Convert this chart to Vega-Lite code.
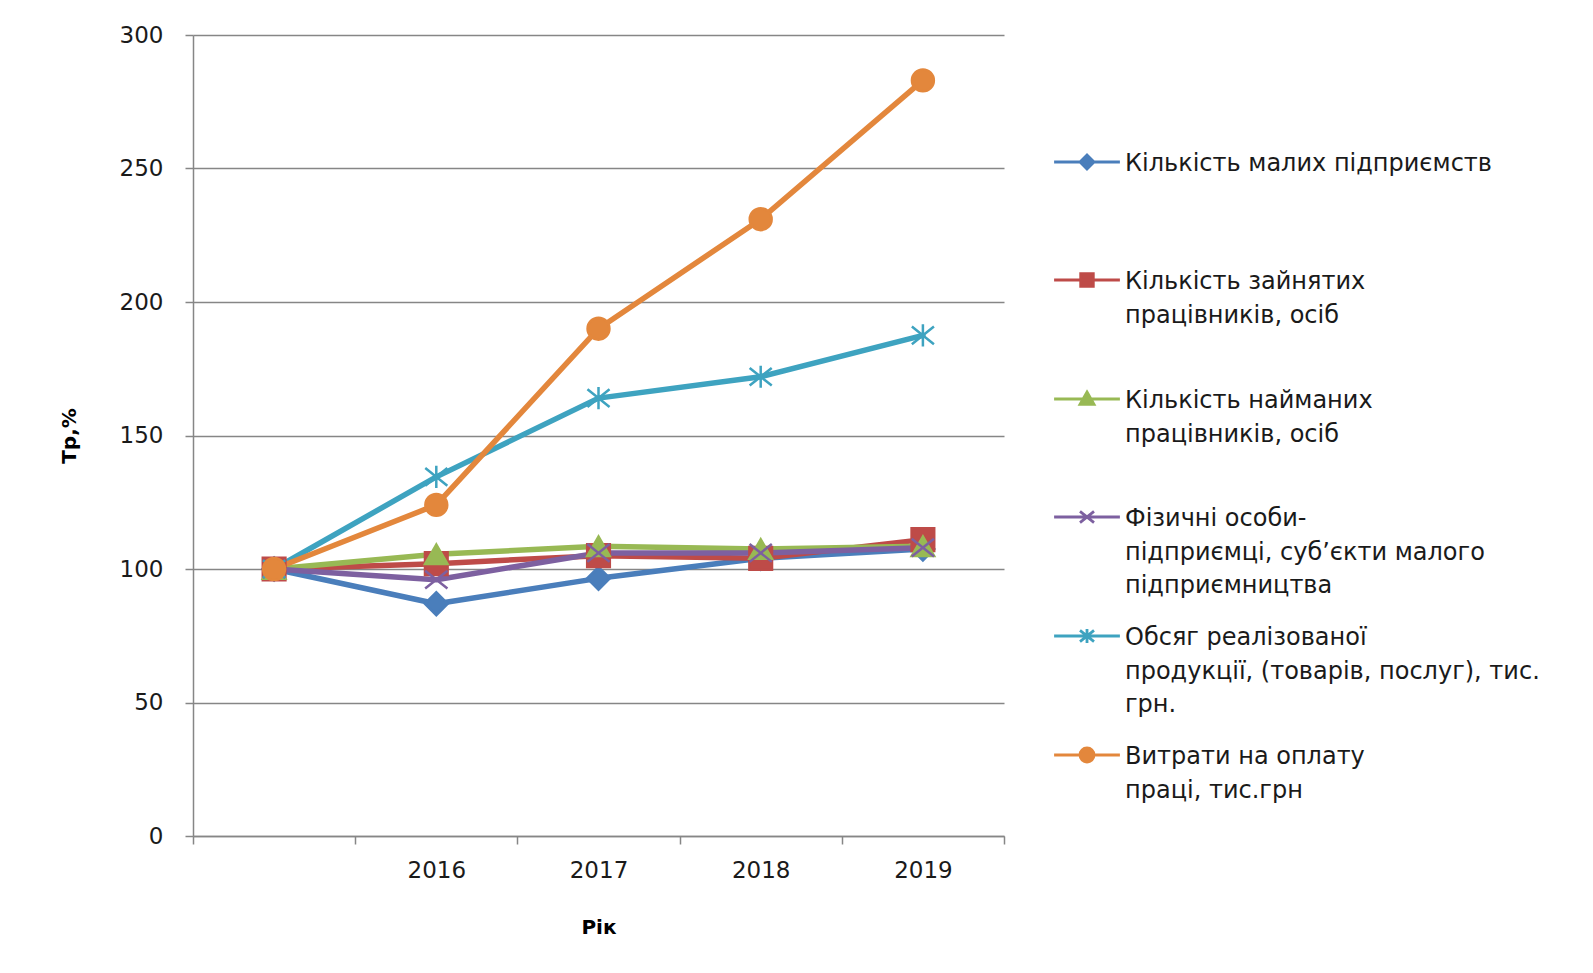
{
  "$schema": "https://vega.github.io/schema/vega-lite/v6.json",
  "width": 811,
  "height": 801,
  "autosize": {"type": "none"},
  "padding": {"left": 193, "top": 35, "right": 589, "bottom": 137},
  "background": "white",
  "data": {
    "values": [
      {"year": "2015", "series": "Кількість малих підприємств", "value": 100},
      {"year": "2016", "series": "Кількість малих підприємств", "value": 87},
      {"year": "2017", "series": "Кількість малих підприємств", "value": 96.5},
      {"year": "2018", "series": "Кількість малих підприємств", "value": 104},
      {"year": "2019", "series": "Кількість малих підприємств", "value": 107.5},
      {"year": "2015", "series": "Кількість зайнятих працівників, осіб", "value": 100},
      {"year": "2016", "series": "Кількість зайнятих працівників, осіб", "value": 102},
      {"year": "2017", "series": "Кількість зайнятих працівників, осіб", "value": 105},
      {"year": "2018", "series": "Кількість зайнятих працівників, осіб", "value": 104},
      {"year": "2019", "series": "Кількість зайнятих працівників, осіб", "value": 111},
      {"year": "2015", "series": "Кількість найманих працівників, осіб", "value": 100},
      {"year": "2016", "series": "Кількість найманих працівників, осіб", "value": 105.5},
      {"year": "2017", "series": "Кількість найманих працівників, осіб", "value": 108.5},
      {"year": "2018", "series": "Кількість найманих працівників, осіб", "value": 107.5},
      {"year": "2019", "series": "Кількість найманих працівників, осіб", "value": 108.5},
      {"year": "2015", "series": "Фізичні особи-підприємці, суб’єкти малого підприємництва", "value": 100},
      {"year": "2016", "series": "Фізичні особи-підприємці, суб’єкти малого підприємництва", "value": 96},
      {"year": "2017", "series": "Фізичні особи-підприємці, суб’єкти малого підприємництва", "value": 106},
      {"year": "2018", "series": "Фізичні особи-підприємці, суб’єкти малого підприємництва", "value": 106},
      {"year": "2019", "series": "Фізичні особи-підприємці, суб’єкти малого підприємництва", "value": 108},
      {"year": "2015", "series": "Обсяг реалізованої продукції, (товарів, послуг), тис. грн.", "value": 100},
      {"year": "2016", "series": "Обсяг реалізованої продукції, (товарів, послуг), тис. грн.", "value": 134.5},
      {"year": "2017", "series": "Обсяг реалізованої продукції, (товарів, послуг), тис. грн.", "value": 164},
      {"year": "2018", "series": "Обсяг реалізованої продукції, (товарів, послуг), тис. грн.", "value": 172},
      {"year": "2019", "series": "Обсяг реалізованої продукції, (товарів, послуг), тис. грн.", "value": 187.5},
      {"year": "2015", "series": "Витрати на оплату праці, тис.грн", "value": 100},
      {"year": "2016", "series": "Витрати на оплату праці, тис.грн", "value": 124},
      {"year": "2017", "series": "Витрати на оплату праці, тис.грн", "value": 190},
      {"year": "2018", "series": "Витрати на оплату праці, тис.грн", "value": 231},
      {"year": "2019", "series": "Витрати на оплату праці, тис.грн", "value": 283}
    ]
  },
  "encoding": {
    "x": {
      "field": "year",
      "type": "ordinal",
      "sort": null,
      "scale": {"paddingInner": 0, "paddingOuter": 0},
      "axis": {
        "title": "Рік",
        "labelAngle": 0,
        "labelExpr": "datum.value == '2015' ? '' : datum.value",
        "tickBand": "extent",
        "tickSize": 8,
        "labelPadding": 15,
        "titlePadding": 35
      }
    },
    "y": {
      "field": "value",
      "type": "quantitative",
      "scale": {"domain": [0, 300], "nice": false, "zero": true},
      "axis": {
        "title": "Tp,%",
        "values": [0, 50, 100, 150, 200, 250, 300],
        "tickSize": 8,
        "labelPadding": 22,
        "titlePadding": 40,
        "grid": true
      }
    }
  },
  "layer": [
    {
      "mark": {"type": "line", "strokeWidth": 5.5, "strokeCap": "round", "strokeJoin": "round"},
      "encoding": {
        "color": {
          "field": "series",
          "type": "nominal",
          "sort": null,
          "scale": {
            "domain": ["Кількість малих підприємств", "Кількість зайнятих працівників, осіб", "Кількість найманих працівників, осіб", "Фізичні особи-підприємці, суб’єкти малого підприємництва", "Обсяг реалізованої продукції, (товарів, послуг), тис. грн.", "Витрати на оплату праці, тис.грн"],
            "range": ["#4A7EBB", "#BE4B48", "#98B954", "#7D60A0", "#3EA3C0", "#E3873C"]
          },
          "legend": {
            "title": null,
            "orient": "none",
            "legendX": 882,
            "legendY": 115,
            "padding": 0,
            "symbolOffset": 0,
            "labelOffset": 26,
            "labelBaseline": "top",
            "labelFont": "DejaVu Sans",
            "labelFontSize": 24,
            "labelColor": "#1a1a1a",
            "labelLimit": 600,
            "rowPadding": 25,
            "symbolSize": 196,
            "symbolStrokeWidth": 2.5,
            "labelExpr": "datum.value == 'Кількість малих підприємств' ? ['Кількість малих підприємств', '', ''] : datum.value == 'Кількість зайнятих працівників, осіб' ? ['Кількість зайнятих', 'працівників, осіб', ''] : datum.value == 'Кількість найманих працівників, осіб' ? ['Кількість найманих', 'працівників, осіб', ''] : datum.value == 'Фізичні особи-підприємці, суб’єкти малого підприємництва' ? ['Фізичні особи-', 'підприємці, суб’єкти малого', 'підприємництва'] : datum.value == 'Обсяг реалізованої продукції, (товарів, послуг), тис. грн.' ? ['Обсяг реалізованої', 'продукції, (товарів,  послуг), тис.', 'грн.'] : ['Витрати на оплату', 'праці, тис.грн', '']",
            "encode": {
              "labels": {"update": {"lineHeight": {"value": 33.5}, "dy": {"value": -10}}},
              "symbols": {
                "update": {
                  "shape": {"signal": "datum.value == 'Кількість малих підприємств' ? 'M0,-1L1,0L0,1L-1,0Z M-4.7,0L4.7,0' : datum.value == 'Кількість зайнятих працівників, осіб' ? 'M-0.9,-0.9L0.9,-0.9L0.9,0.9L-0.9,0.9Z M-4.7,0L4.7,0' : datum.value == 'Кількість найманих працівників, осіб' ? 'M0,-1L1,0.75L-1,0.75Z M-4.7,0L4.7,0' : datum.value == 'Фізичні особи-підприємці, суб’єкти малого підприємництва' ? 'M-1,-0.8L1,0.8M-1,0.8L1,-0.8 M-4.7,0L4.7,0' : datum.value == 'Обсяг реалізованої продукції, (товарів, послуг), тис. грн.' ? 'M-1,-0.8L1,0.8M-1,0.8L1,-0.8M0,-1L0,1 M-4.7,0L4.7,0' : 'M-1,0A1,1,0,1,0,1,0A1,1,0,1,0,-1,0Z M-4.7,0L4.7,0'"},
                  "size": {"value": 196},
                  "fill": {"scale": "color", "field": "value"},
                  "stroke": {"scale": "color", "field": "value"},
                  "strokeWidth": {"value": 2.8},
                  "opacity": {"value": 1},
                  "fillOpacity": {"value": 1},
                  "strokeOpacity": {"value": 1}
                }
              }
            }
          }
        }
      }
    },
    {
      "mark": {"type": "point", "filled": true, "strokeWidth": 2.5, "opacity": 1},
      "encoding": {
        "fill": {
          "field": "series",
          "type": "nominal",
          "sort": null,
          "scale": {
            "domain": ["Витрати на оплату праці, тис.грн", "Обсяг реалізованої продукції, (товарів, послуг), тис. грн.", "Фізичні особи-підприємці, суб’єкти малого підприємництва", "Кількість найманих працівників, осіб", "Кількість зайнятих працівників, осіб", "Кількість малих підприємств"],
            "range": ["#E3873C", "#3EA3C0", "#7D60A0", "#98B954", "#BE4B48", "#4A7EBB"]
          },
          "legend": null
        },
        "stroke": {
          "field": "series",
          "type": "nominal",
          "sort": null,
          "scale": {
            "domain": ["Витрати на оплату праці, тис.грн", "Обсяг реалізованої продукції, (товарів, послуг), тис. грн.", "Фізичні особи-підприємці, суб’єкти малого підприємництва", "Кількість найманих працівників, осіб", "Кількість зайнятих працівників, осіб", "Кількість малих підприємств"],
            "range": ["#E3873C", "#3EA3C0", "#7D60A0", "#98B954", "#BE4B48", "#4A7EBB"]
          },
          "legend": null
        },
        "shape": {
          "field": "series",
          "type": "nominal",
          "sort": null,
          "scale": {
            "domain": ["Витрати на оплату праці, тис.грн", "Обсяг реалізованої продукції, (товарів, послуг), тис. грн.", "Фізичні особи-підприємці, суб’єкти малого підприємництва", "Кількість найманих працівників, осіб", "Кількість зайнятих працівників, осіб", "Кількість малих підприємств"],
            "range": ["circle", "M-1,-0.8L1,0.8M-1,0.8L1,-0.8M0,-1L0,1", "M-1,-0.8L1,0.8M-1,0.8L1,-0.8", "triangle-up", "square", "diamond"]
          },
          "legend": null
        },
        "size": {
          "field": "series",
          "type": "nominal",
          "sort": null,
          "scale": {
            "domain": ["Витрати на оплату праці, тис.грн", "Обсяг реалізованої продукції, (товарів, послуг), тис. грн.", "Фізичні особи-підприємці, суб’єкти малого підприємництва", "Кількість найманих працівників, осіб", "Кількість зайнятих працівників, осіб", "Кількість малих підприємств"],
            "range": [480, 520, 380, 300, 300, 300]
          },
          "legend": null
        }
      }
    }
  ],
  "config": {
    "font": "DejaVu Sans",
    "view": {"stroke": null},
    "axis": {
      "domainColor": "#868686",
      "domainWidth": 1.5,
      "tickColor": "#868686",
      "tickWidth": 1.5,
      "gridColor": "#868686",
      "gridWidth": 1.5,
      "labelFont": "DejaVu Sans",
      "labelFontSize": 23,
      "labelColor": "#1a1a1a",
      "titleFont": "DejaVu Sans",
      "titleFontSize": 20,
      "titleFontWeight": "bold",
      "titleColor": "#000000"
    }
  }
}
